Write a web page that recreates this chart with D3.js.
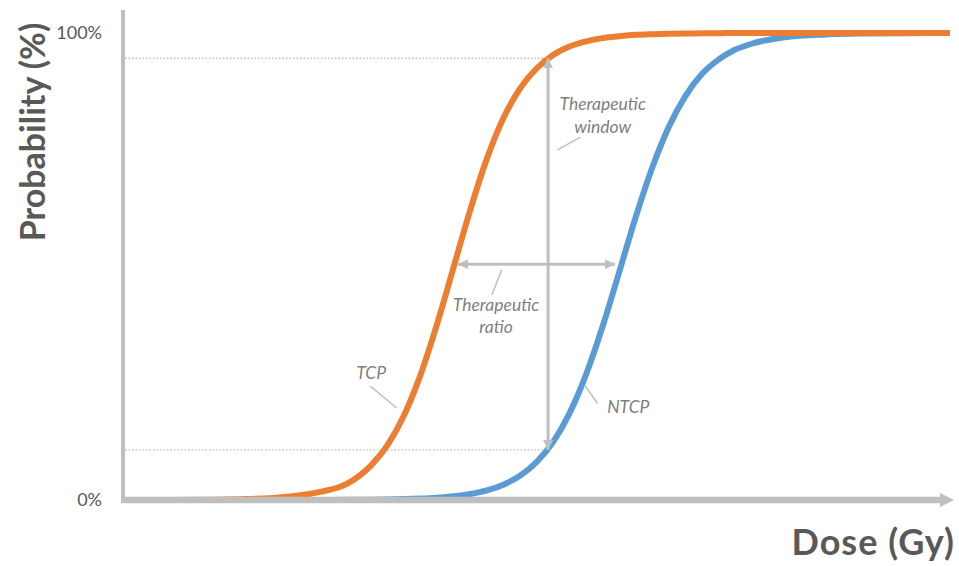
<!DOCTYPE html>
<html>
<head>
<meta charset="utf-8">
<script src="https://cdn.jsdelivr.net/npm/d3@7"></script>
<style>
  body { margin: 0; background: #fff; }
  svg text { font-family: Lato, "Open Sans", sans-serif; }
</style>
</head>
<body>
<div id="wrapper"></div>
<script>
// dose axis is unitless in the picture, 0..100 across the plot
const doses = [0, 5, 10, 15, 20, 24, 27, 30, 32, 34, 36, 38, 40, 42, 44, 46, 48, 50,
  52, 54, 56, 58, 60, 62, 64, 66, 68, 70, 72, 74, 76, 80, 85, 90, 95, 100];
const tcpValues = [0, 0, 0.05, 0.2, 0.7, 1.8, 3.4, 7.4, 11.8, 18.2, 26.9, 37.8, 50, 62.2,
  73.1, 81.8, 88.1, 92.4, 95.3, 97.1, 98.2, 98.9, 99.3, 99.6, 99.75, 99.85, 99.9, 99.94,
  99.97, 99.98, 99.99, 100, 100, 100, 100, 100];
const ntcpValues = [0, 0, 0, 0, 0, 0.02, 0.04, 0.08, 0.12, 0.19, 0.31, 0.5, 0.81, 1.3,
  2.07, 3.29, 5.19, 8.1, 12.4, 18.6, 26.9, 37.2, 48.8, 60.6, 71.2, 79.9, 86.5, 91.2, 94.3,
  96.4, 97.7, 99.1, 99.7, 99.9, 99.97, 100];

const yTickValues = [0, 100];
const yTickLabels = ["0%", "100%"];

// therapeutic window (vertical) and ratio (horizontal) markers, in data units
const windowDose = 51.4;
const windowLow = 10.7;
const windowHigh = 94.6;
const ratioLevel = 50.5;
const ratioFrom = 40.5;
const ratioTo = 59.5;

// callout labels: text lines, anchor (dose, prob of first baseline), leader line
const calloutTexts = [["Therapeutic", "window"], ["Therapeutic", "ratio"], ["TCP"], ["NTCP"]];
const calloutAnchors = [[58.0, 83.5], [45.1, 40.5], [30.0, 25.9], [61.1, 18.6]];
const calloutLeaders = [
  [[52.5, 74.9], [55.3, 77.7]],
  [[45.8, 49.3], [44.6, 43.9]],
  [[29.9, 24.4], [33.1, 19.7]],
  [[55.9, 24.4], [57.4, 20.6]]
];

function drawChart() {
  let dimensions = {
    width: 959,
    height: 566,
    margin: { top: 33, right: 9, bottom: 66, left: 123 }
  };
  dimensions.boundedWidth = dimensions.width - dimensions.margin.left - dimensions.margin.right;
  dimensions.boundedHeight = dimensions.height - dimensions.margin.top - dimensions.margin.bottom;

  const axisGray = "#bfbfbf";

  const wrapper = d3.select("#wrapper")
    .append("svg")
      .attr("width", dimensions.width)
      .attr("height", dimensions.height);

  const defs = wrapper.append("defs");
  defs.append("marker")
      .attr("id", "head")
      .attr("markerUnits", "userSpaceOnUse")
      .attr("viewBox", "0 0 10 10")
      .attr("markerWidth", 10)
      .attr("markerHeight", 10)
      .attr("refX", 10)
      .attr("refY", 5)
      .attr("orient", "auto-start-reverse")
    .append("path")
      .attr("d", "M0,0L10,5L0,10Z")
      .attr("fill", axisGray);
  defs.append("marker")
      .attr("id", "axisHead")
      .attr("markerUnits", "userSpaceOnUse")
      .attr("viewBox", "0 0 14 14")
      .attr("markerWidth", 14)
      .attr("markerHeight", 14)
      .attr("refX", 2)
      .attr("refY", 7)
      .attr("orient", "auto")
    .append("path")
      .attr("d", "M0,0L14,7L0,14Z")
      .attr("fill", axisGray);

  const bounds = wrapper.append("g")
      .attr("transform", `translate(${dimensions.margin.left},${dimensions.margin.top})`);

  const xScale = d3.scaleLinear()
      .domain([0, 100])
      .range([0, dimensions.boundedWidth]);
  const yScale = d3.scaleLinear()
      .domain([0, 100])
      .range([dimensions.boundedHeight, 0]);

  const yAxisGenerator = d3.axisLeft(yScale)
      .tickValues(yTickValues)
      .tickFormat((d, i) => yTickLabels[i])
      .tickSize(0)
      .tickPadding(21);
  const yAxis = bounds.append("g").call(yAxisGenerator);
  yAxis.select(".domain").remove();
  yAxis.selectAll("text")
      .style("font-family", "Lato, sans-serif")
      .style("font-size", "18px")
      .attr("fill", "#595959");

  // dotted guides for the window
  [windowLow, windowHigh].forEach(p => {
    bounds.append("line")
        .attr("x1", 2).attr("x2", xScale(windowDose))
        .attr("y1", yScale(p)).attr("y2", yScale(p))
        .attr("stroke", "#a6a6a6")
        .attr("stroke-width", 1)
        .attr("stroke-dasharray", "1.5,2");
  });

  // curves
  const curveData = [
    { values: ntcpValues, color: "#5b9bd5" },
    { values: tcpValues, color: "#ed7d31" }
  ];
  const lineGenerator = d3.line()
      .x((d, i) => xScale(doses[i]))
      .y(d => yScale(d))
      .curve(d3.curveMonotoneX);
  bounds.selectAll(".curve")
    .data(curveData)
    .join("path")
      .attr("class", "curve")
      .attr("d", d => lineGenerator(d.values))
      .attr("fill", "none")
      .attr("stroke", d => d.color)
      .attr("stroke-width", 6);

  // axes drawn over the flat tails of the curves
  bounds.append("line")
      .attr("x1", 0).attr("x2", 0)
      .attr("y1", -23).attr("y2", dimensions.boundedHeight + 3)
      .attr("stroke", axisGray)
      .attr("stroke-width", 4);
  bounds.append("line")
      .attr("x1", -2).attr("x2", dimensions.boundedWidth - 8)
      .attr("y1", yScale(0)).attr("y2", yScale(0))
      .attr("stroke", axisGray)
      .attr("stroke-width", 6.5)
      .attr("marker-end", "url(#axisHead)");

  // double arrows
  bounds.append("line")
      .attr("x1", xScale(windowDose)).attr("x2", xScale(windowDose))
      .attr("y1", yScale(windowHigh)).attr("y2", yScale(windowLow))
      .attr("stroke", axisGray)
      .attr("stroke-width", 3)
      .attr("marker-start", "url(#head)")
      .attr("marker-end", "url(#head)");
  bounds.append("line")
      .attr("x1", xScale(ratioFrom)).attr("x2", xScale(ratioTo))
      .attr("y1", yScale(ratioLevel)).attr("y2", yScale(ratioLevel))
      .attr("stroke", axisGray)
      .attr("stroke-width", 3)
      .attr("marker-start", "url(#head)")
      .attr("marker-end", "url(#head)");

  // callouts
  calloutLeaders.forEach(seg => {
    bounds.append("line")
        .attr("x1", xScale(seg[0][0])).attr("y1", yScale(seg[0][1]))
        .attr("x2", xScale(seg[1][0])).attr("y2", yScale(seg[1][1]))
        .attr("stroke", axisGray)
        .attr("stroke-width", 1.5);
  });
  calloutTexts.forEach((lines, i) => {
    const t = bounds.append("text")
        .attr("x", xScale(calloutAnchors[i][0]))
        .attr("y", yScale(calloutAnchors[i][1]))
        .attr("text-anchor", "middle")
        .attr("fill", "#7f7f7f")
        .style("font-style", "italic")
        .style("font-size", "17.5px");
    lines.forEach((s, j) => {
      t.append("tspan")
          .attr("x", xScale(calloutAnchors[i][0]))
          .attr("dy", j === 0 ? 0 : 22.5)
          .text(s);
    });
  });

  // axis titles
  wrapper.append("text")
      .attr("x", 955)
      .attr("y", 555)
      .attr("text-anchor", "end")
      .attr("fill", "#595959")
      .style("font-weight", "bold")
      .style("font-size", "36px")
      .style("letter-spacing", "1px")
      .text("Dose (Gy)");
  wrapper.append("text")
      .attr("transform", "translate(45,132) rotate(-90)")
      .attr("text-anchor", "middle")
      .attr("fill", "#595959")
      .style("font-weight", "bold")
      .style("font-size", "34px")
      .text("Probability (%)");
}

drawChart();
</script>
</body>
</html>
